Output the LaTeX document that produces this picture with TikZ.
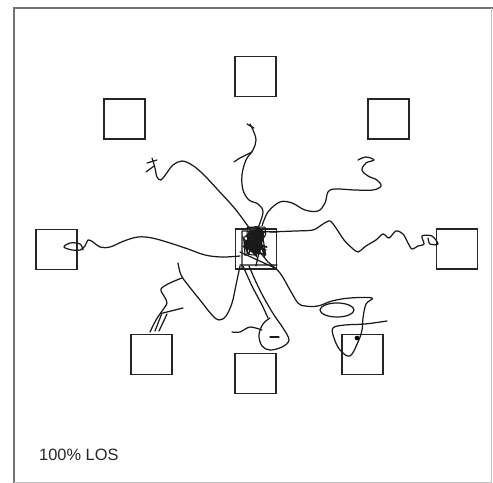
\documentclass[tikz,border=0pt]{standalone}
\usepackage{fontspec}
\newfontfamily\losfont{Liberation Sans}

\begin{document}
\begin{tikzpicture}[
      x=0.03cm, y=-0.03cm,
      every node/.style={font=\small},
      room/.style={
        draw=black!85,
        line width=1.4pt,
        minimum width=1.22cm,
        minimum height=1.19cm,
        inner sep=0pt
      },
      walk/.style={draw=black!90, line width=1.05pt, line join=round, line cap=round},
      tag/.style={font=\losfont\fontsize{14}{16}\selectfont, text=black!85, anchor=west, inner sep=0pt}
    ]
      \useasboundingbox (0,0) rectangle (493,483);
      % frame
      \draw[black!55, line width=1.4pt] (14,483) -- (14,8) -- (493,8);
      \draw[black!25, line width=0.8pt] (491,8) -- (491,482) -- (14,482);

      % rooms
      \node[room] (n)  at (255.5,76.5) {};
      \node[room] (nw) at (124.5,119) {};
      \node[room] (ne) at (388.5,119) {};
      \node[room] (w)  at (56.5,249.5) {};
      \node[room] (c)  at (256,249) {};
      \node[room] (e)  at (457,249) {};
      \node[room] (sw) at (151.5,354.5) {};
      \node[room] (s)  at (255.5,373.5) {};
      \node[room] (se) at (362.5,354.5) {};

      % walks out of the centre room
      \draw[walk] plot[smooth, tension=0.6] coordinates {(252,232) (236,210) (218,190) (203,174) (192,165) (182,161)
        (173,165) (166,174) (161,180) (157,177) (155,168) (152,158)};
      \draw[walk] (147,163) -- (157,160) (146,172) -- (154,166);

      \draw[walk] plot[smooth, tension=0.6] coordinates {(258,228) (263,212) (258,204) (249,200) (243,190) (242,175)
        (246,160) (253,150) (256,140) (253,130) (250,124)};
      \draw[walk] (247,124) -- (254,128);
      \draw[walk] plot[smooth] coordinates {(252,152) (240,158) (234,162)};

      \draw[walk] plot[smooth, tension=0.6] coordinates {(262,226) (268,212) (280,202) (292,203) (305,210) (318,211)
        (325,203) (328,192) (335,189) (355,190) (373,190) (381,186) (377,180) (368,176) (362,170) (366,163)
        (374,160) (366,157) (358,160)};

      \draw[walk] plot[smooth, tension=0.6] coordinates {(240,256) (222,257) (205,255) (188,249) (170,243) (152,238)
        (138,237) (124,241) (110,247) (100,247) (93,242) (88,240) (85,246) (80,250) (72,250) (64,247) (70,243)
        (80,244) (83,250)};

      \draw[walk] plot[smooth, tension=0.5] coordinates {(270,232) (295,231) (313,230) (323,224) (330,221) (336,228)
        (344,240) (352,248) (358,252) (366,246) (376,240) (383,234) (389,238) (396,231) (403,234) (408,243)
        (412,249) (418,246) (424,244) (422,236) (432,236) (438,244) (430,244) (428,238)};

      \draw[walk] plot[smooth, tension=0.6] coordinates {(240,266) (236,285) (232,303) (226,316) (219,320) (212,315)
        (200,300) (188,285) (181,275) (178,263)};
      \draw[walk] plot[smooth, tension=0.6] coordinates {(182,278) (170,283) (161,289) (164,296) (167,303) (162,311)
        (156,320) (150,332)};
      \draw[walk] (155,331) -- (162,313) (159,331) -- (167,314) (163,313) -- (183,308);

      \draw[walk] plot[smooth, tension=0.6] coordinates {(249,266) (256,282) (264,298) (274,315) (283,328) (289,340)
        (282,347) (270,350) (262,346) (259,335) (263,324) (270,318)};
      \draw[walk] plot[smooth, tension=0.6] coordinates {(243,266) (252,286) (262,305) (268,318)};
      \draw[walk] plot[smooth] coordinates {(262,330) (250,327) (240,332) (232,332)};
      \draw[walk] (270,337) -- (279,337);

      \draw[walk] plot[smooth, tension=0.6] coordinates {(268,262) (280,273) (290,290) (298,303) (305,306) (318,306)
        (332,301) (350,298) (372,298) (366,304) (363,318) (362,330) (358,342) (350,356) (340,350) (334,338)
        (333,328) (345,325) (365,324) (387,321)};
      \draw[walk] (337,310) ellipse [x radius=0.51cm, y radius=0.21cm];
      \fill[black] (357,338) circle [radius=0.07cm];

      % tangle inside the centre room
      \fill[black!80] plot[smooth cycle] coordinates {(249,230) (257,226) (264,232) (262,244) (258,254) (251,252)
        (247,242)};
      \pgfmathsetseed{7}
      \draw[walk, line width=0.9pt] (255,240)
        \foreach \i in {1,...,60} { -- ({255+13*rand}, {242+15*rand}) };
      \draw[walk] (242,231) -- (277,232) (242,231) -- (242,268) (240,252) -- (275,268) (240,265) -- (277,265)
        (250,240) -- (268,262) (262,238) -- (256,266) (244,246) -- (266,250);

      \node[tag] (los) at (39,455) {100\% LOS};
    \end{tikzpicture}
\end{document}
